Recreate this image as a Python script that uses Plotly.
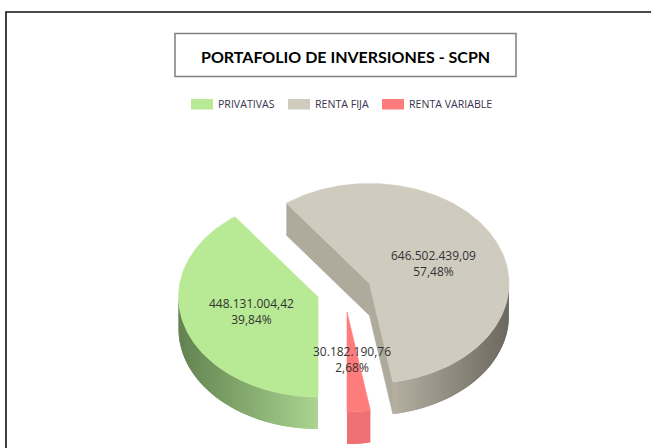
import math
import plotly.graph_objects as go

# ---- data ----
categories = ["PRIVATIVAS", "RENTA FIJA", "RENTA VARIABLE"]
values = [448131004.42, 646502439.09, 30182190.76]
title_text = "PORTAFOLIO DE INVERSIONES - SCPN"

# ---- styling / layout ----
top_colors = ["#b8e994", "#cfcbbf", "#ff7c7c"]
wall_dark = [(98, 130, 80), (108, 104, 94), (238, 112, 116)]
wall_light = [(170, 212, 144), (180, 175, 161), (238, 112, 116)]
cut_color = "#aeaa9c"
RX, RY, DEPTH = 139.5, 100.0, 32.0
APEX_X = [318.0, 369.5, 347.0]
APEX_Y = [297.0, 283.5, 312.0]
LABEL_X = [251.5, 433.5, 352.0]
LABEL_Y = [303.0, 255.0, 351.0]
LEG_X = [191, 288, 382]
START_ANGLE = 180.0


def fmt_num(v):
    return f"{v:,.2f}".replace(",", "X").replace(".", ",").replace("X", ".")


def pct(v):
    return f"{100 * v / sum(values):.2f}".replace(".", ",") + "%"


def hexmix(a, b, t):
    return "rgb(%d,%d,%d)" % tuple(round(a[i] + (b[i] - a[i]) * t) for i in range(3))


def pt(i, deg, dz=0.0):
    r = math.radians(deg)
    return APEX_X[i] + RX * math.sin(r), APEX_Y[i] - RY * math.cos(r) + dz


def poly(xs, ys, color, lw=0.6):
    return go.Scatter(x=xs, y=ys, mode="lines", fill="toself", fillcolor=color,
                      line=dict(color=color, width=lw), hoverinfo="skip", showlegend=False)


fig = go.Figure()
total = sum(values)
a0 = START_ANGLE
for i, v in enumerate(values):
    a1 = a0 + 360 * v / total
    # cut faces of the grey slice seen from the front
    if i == 1:
        for ang in (a0, a1):
            ex, ey = pt(i, ang)
            fig.add_trace(poly([ex, APEX_X[i], APEX_X[i], ex],
                               [ey, APEX_Y[i], APEX_Y[i] + DEPTH, ey + DEPTH], cut_color))
    # outer wall, visible where the rim faces the viewer (angles 90..270)
    lo, hi = max(a0 % 360 if i != 1 else 90, 90), min(a1 % 360 if i != 1 else a1 - 360, 270)
    n = max(1, int((hi - lo) / 2))
    for k in range(n):
        d0 = lo + (hi - lo) * k / n
        d1 = lo + (hi - lo) * (k + 1) / n
        d2 = lo + (hi - lo) * min(k + 2, n) / n
        (xa, ya), (xb, yb), (xc, yc) = pt(i, d0), pt(i, d1), pt(i, d2)
        xm = (xa + xb) / 2
        if i == 0:
            t = (xm - APEX_X[i] + RX) / RX
        elif i == 1:
            t = 1 - (xm - pt(1, 170.3)[0]) / (pt(1, 90)[0] - pt(1, 170.3)[0])
        else:
            t = 1
        t = max(0.0, min(1.0, t))
        # each strip runs under the next one, so no seam shows between them
        fig.add_trace(poly([xa, xb, xc, xc, xb, xa],
                           [ya, yb, yc, yc + DEPTH, yb + DEPTH, ya + DEPTH],
                           hexmix(wall_dark[i], wall_light[i], t), lw=0))
    # top surface
    steps = max(4, int(a1 - a0))
    xs, ys = [APEX_X[i]], [APEX_Y[i]]
    for k in range(steps + 1):
        x, y = pt(i, a0 + (a1 - a0) * k / steps)
        xs.append(x)
        ys.append(y)
    xs.append(APEX_X[i])
    ys.append(APEX_Y[i])
    fig.add_trace(poly(xs, ys, top_colors[i]))
    a0 = a1

ann = []
shapes = [
    dict(type="rect", x0=6, y0=12, x1=700, y1=520, line=dict(color="#111111", width=1.6)),
    dict(type="rect", x0=175, y0=33.5, x1=516, y1=76.5, line=dict(color="#7f7f7f", width=1.5)),
]
ann.append(dict(x=345.5, y=56, text=f"<b>{title_text}</b>", showarrow=False,
                font=dict(family="Lato", size=16, color="#000000")))
for i, c in enumerate(categories):
    shapes.append(dict(type="rect", x0=LEG_X[i], x1=LEG_X[i] + 22, y0=99, y1=109.5,
                       fillcolor=top_colors[i], line=dict(width=0)))
    ann.append(dict(x=LEG_X[i] + 25, y=104, text=c, showarrow=False, xanchor="left",
                    font=dict(family="Open Sans", size=10.6, color="#3a3350")))
    ann.append(dict(x=LABEL_X[i], y=LABEL_Y[i] + 8.5,
                    text=f"{fmt_num(values[i])}<br>{pct(values[i])}", showarrow=False,
                    font=dict(family="Open Sans", size=12, color="#333333")))

fig.update_layout(
    width=651, height=448, margin=dict(l=0, r=0, t=0, b=0),
    paper_bgcolor="white", plot_bgcolor="white", showlegend=False,
    xaxis=dict(range=[0, 651], visible=False, fixedrange=True),
    yaxis=dict(range=[448, 0], visible=False, fixedrange=True),
    shapes=shapes, annotations=ann,
)
fig.write_html("out.html", config={"displayModeBar": False},
               post_script="document.body.style.margin='0';document.body.style.overflow='hidden';")
